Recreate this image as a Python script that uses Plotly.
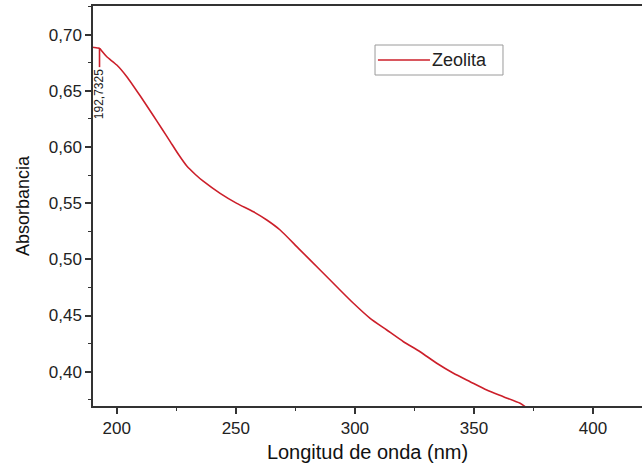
import plotly.graph_objects as go

# ---- data ----
series_name = "Zeolita"
wavelength_nm = [190.0, 190.6, 192.0, 192.9, 193.7, 195.8, 200.0, 204.2, 209.8, 215.3, 219.0,
                 222.5, 226.0, 229.4, 233.0, 236.3, 243.4, 250.4, 257.4, 263.0, 268.6, 276.3,
                 285.4, 292.4, 299.4, 306.4, 313.4, 320.4, 327.4, 334.4, 341.4, 348.4, 355.4,
                 362.4, 369.4, 371.5]
absorbance = [0.6888, 0.6884, 0.6880, 0.6875, 0.6853, 0.6802, 0.6729, 0.6625, 0.6455, 0.6280, 0.6160,
              0.6045, 0.5930, 0.5830, 0.5755, 0.5695, 0.5587, 0.5498, 0.5423, 0.5350, 0.5261, 0.5098,
              0.4905, 0.4756, 0.4609, 0.4475, 0.4371, 0.4267, 0.4178, 0.4075, 0.3986, 0.3911, 0.3837,
              0.3778, 0.3719, 0.3690]
peak_nm = [192.7325]
peak_abs = [0.6875]
peak_label_abs = [0.6710]   # lower end of the peak marker
peak_label_text = ["192,7325"]

x_ticks = [200, 250, 300, 350, 400]
y_ticks = [0.40, 0.45, 0.50, 0.55, 0.60, 0.65, 0.70]

FONT = "Arial, Liberation Sans, sans-serif"
RED = "#cc1f2a"
AX = "#333333"

fig = go.Figure()
fig.add_trace(go.Scatter(x=wavelength_nm, y=absorbance, mode="lines", name=series_name,
                         line=dict(color=RED, width=1.6, shape="spline", smoothing=0.6),
                         showlegend=False))
# peak marker line
fig.add_trace(go.Scatter(x=[peak_nm[0], peak_nm[0]], y=[peak_abs[0], peak_label_abs[0]],
                         mode="lines", line=dict(color=RED, width=1.6), showlegend=False))

fig.add_annotation(x=peak_nm[0] - 0.2, y=peak_label_abs[0], text=peak_label_text[0],
                   textangle=-90, showarrow=False, xanchor="center", yanchor="top",
                   font=dict(family=FONT, size=12, color="#222222"))

# custom legend box
lx0, lx1, ly0, ly1 = 0.5137, 0.7468, 0.8275, 0.9025
ly = (ly0 + ly1) / 2
fig.add_shape(type="rect", xref="paper", yref="paper", x0=lx0, x1=lx1, y0=ly0, y1=ly1,
              line=dict(color="#9a9a9a", width=1), fillcolor="white")
fig.add_shape(type="line", xref="paper", yref="paper", x0=0.519, x1=0.6138, y0=ly, y1=ly,
              line=dict(color=RED, width=1.6))
fig.add_annotation(xref="paper", yref="paper", x=0.6138, y=ly, text=series_name,
                   showarrow=False, xanchor="left", yanchor="middle",
                   font=dict(family=FONT, size=18, color="#222222"))

fig.update_layout(
    width=642, height=472,
    margin=dict(l=93, r=0, t=6, b=66),
    paper_bgcolor="white", plot_bgcolor="white",
    separators=",.",
    font=dict(family=FONT, color="#222222"),
    showlegend=False,
)
fig.update_xaxes(range=[190, 420.6], tickvals=x_ticks, ticks="outside", ticklen=6, tickwidth=1.5,
                 tickcolor=AX, showline=True, linecolor=AX, linewidth=1.5, mirror=True,
                 showgrid=False, zeroline=False,
                 tickfont=dict(family=FONT, size=17, color="#222222"),
                 title=dict(text="Longitud de onda (nm)", font=dict(family=FONT, size=20, color="#111111"),
                            standoff=8),
                 minor=dict(ticks="outside", ticklen=3, tickwidth=1.2, tickcolor=AX, dtick=25, tick0=0,
                            showgrid=False))
fig.update_yaxes(range=[0.3695, 0.7254], tickvals=y_ticks, tickformat=".2f", ticks="outside",
                 ticklen=6, tickwidth=1.5, tickcolor=AX, showline=True, linecolor=AX, linewidth=1.5,
                 mirror=False, showgrid=False, zeroline=False,
                 tickfont=dict(family=FONT, size=17, color="#222222"),
                 title=dict(text="Absorbancia", font=dict(family=FONT, size=18, color="#111111"),
                            standoff=14),
                 minor=dict(ticks="outside", ticklen=3, tickwidth=1.2, tickcolor=AX, dtick=0.025,
                            tick0=0, showgrid=False))

fig.write_html("out.html")
